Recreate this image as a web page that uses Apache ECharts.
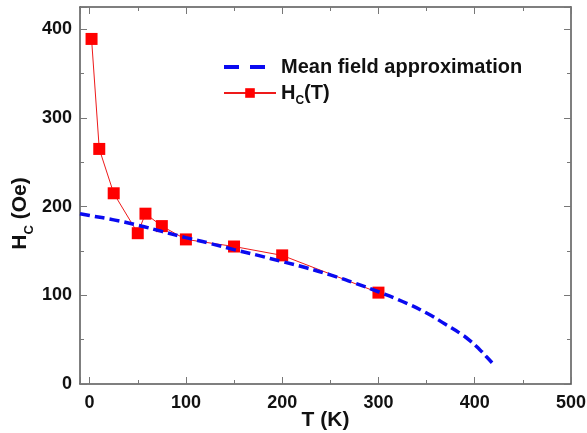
<!DOCTYPE html>
<html>
<head>
<meta charset="utf-8">
<title>Hc(T)</title>
<script src="https://cdn.jsdelivr.net/npm/echarts@6/dist/echarts.min.js"></script>
<style>
  html, body { margin: 0; padding: 0; background: #fff; }
  #chart { width: 587px; height: 433px; }
</style>
</head>
<body>
<div id="chart"></div>
<script>
// Measured coercive field vs temperature
const tempMeasured = [2, 10, 25, 50, 58, 75, 100, 150, 200, 300];
const hcMeasured   = [389, 265, 215, 170, 192, 178, 163, 155, 145, 103];

// Mean field approximation curve
const tempMeanField = [-10, 0, 25, 50, 75, 100, 125, 150, 175, 200, 225, 250, 275, 300, 325, 350, 370, 385, 395, 405, 412, 418];
const hcMeanField   = [192, 190, 185, 179, 172, 165, 158.5, 151.5, 145, 138, 131, 123, 114, 104, 93, 80, 67, 57, 49, 39, 31, 24];

// Axis ranges and tick labels
const xRange = [-10, 500];
const yRange = [0, 425];
const xTickLabels = [0, 100, 200, 300, 400, 500];
const yTickLabels = [0, 100, 200, 300, 400];

const FONT = "'Liberation Sans', Arial, sans-serif";

const pairs = (xs, ys) => xs.map((x, i) => [x, ys[i]]);

const axisLineStyle = { color: '#555', width: 1.5 };
const tickStyle = { color: '#777', width: 1 };

function frameAxis(extra) {
  return Object.assign({
    type: 'value',
    axisLine: { show: true, onZero: false, lineStyle: axisLineStyle },
    axisTick: { show: true, inside: true, length: 7, lineStyle: tickStyle },
    minorTick: { show: true, splitNumber: 2, length: 4, lineStyle: tickStyle },
    splitLine: { show: false },
    minorSplitLine: { show: false }
  }, extra);
}

const chart = echarts.init(document.getElementById('chart'), null, { renderer: 'canvas' });

chart.setOption({
  animation: false,
  backgroundColor: '#fff',
  textStyle: { fontFamily: FONT },
  grid: { left: 80, right: 16, top: 7, bottom: 49, containLabel: false, outerBoundsMode: 'none' },
  xAxis: [
    frameAxis({
      position: 'bottom',
      min: xRange[0], max: xRange[1], splitNumber: 5,
      name: 'T (K)',
      nameLocation: 'middle',
      nameMoveOverlap: false,
      nameGap: 26,
      nameTextStyle: { fontSize: 21, fontWeight: 'bold', color: '#111', fontFamily: FONT },
      axisLabel: {
        margin: 10, fontSize: 18, fontWeight: 'bold', color: '#111', fontFamily: FONT,
        formatter: v => (xTickLabels.includes(v) ? String(v) : '')
      }
    }),
    frameAxis({
      position: 'top',
      min: xRange[0], max: xRange[1], splitNumber: 5,
      axisLabel: { show: false }
    })
  ],
  yAxis: [
    frameAxis({
      position: 'left',
      min: yRange[0], max: yRange[1], interval: 100,
      name: '{m|H}{s|C}{m| (Oe)}',
      nameLocation: 'middle',
      nameMoveOverlap: false,
      nameGap: 44,
      nameTextStyle: {
        color: '#111',
        padding: [0, 36, 0, 0],
        rich: {
          m: { fontSize: 21, fontWeight: 'bold', color: '#111', fontFamily: FONT },
          s: { fontSize: 13, fontWeight: 'bold', color: '#111', fontFamily: FONT, padding: [18, 0, 0, 0] }
        }
      },
      axisLabel: {
        margin: 8, fontSize: 18, fontWeight: 'bold', color: '#111', fontFamily: FONT,
        formatter: v => (yTickLabels.includes(v) ? String(v) : '')
      }
    }),
    frameAxis({
      position: 'right',
      min: yRange[0], max: yRange[1], interval: 100,
      axisLabel: { show: false }
    })
  ],
  legend: {
    orient: 'vertical',
    left: 222,
    top: 57,
    padding: 0,
    itemWidth: 52,
    itemHeight: 12,
    itemGap: 6,
    textStyle: {
      fontSize: 20, fontWeight: 'bold', color: '#111', fontFamily: FONT,
      rich: {
        m: { fontSize: 20, fontWeight: 'bold', color: '#111', fontFamily: FONT },
        s: { fontSize: 12, fontWeight: 'bold', color: '#111', fontFamily: FONT, padding: [16, 0, 0, 0] }
      }
    },
    data: [
      {
        name: 'Mean field approximation',
        itemStyle: { opacity: 0 },
        lineStyle: { type: [15, 11], width: 4, color: '#0a0af0' }
      },
      {
        name: 'Hc(T)'
      }
    ],
    formatter: name => (name === 'Hc(T)' ? '{m|H}{s|C}{m|(T)}' : name)
  },
  series: [
    {
      name: 'Hc(T)',
      type: 'line',
      data: pairs(tempMeasured, hcMeasured),
      symbol: 'rect',
      symbolSize: 12,
      itemStyle: { color: '#ff0000' },
      lineStyle: { color: '#ee1a1a', width: 1 },
      z: 2
    },
    {
      name: 'Mean field approximation',
      type: 'line',
      data: pairs(tempMeanField, hcMeanField),
      smooth: true,
      symbol: 'none',
      itemStyle: { color: '#0a0af0' },
      lineStyle: { color: '#0a0af0', width: 3.5, type: [10, 5] },
      z: 3
    }
  ]
});
</script>
</body>
</html>
